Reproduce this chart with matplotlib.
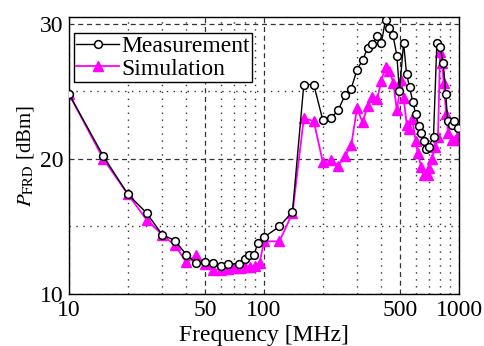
import matplotlib
matplotlib.use("Agg")
import matplotlib.pyplot as plt
from matplotlib.ticker import FixedLocator, NullFormatter, FixedFormatter

plt.rcParams['font.family'] = ['Liberation Serif', 'DejaVu Serif']
plt.rcParams['mathtext.fontset'] = 'stix'

# Measurement
freq_meas = [10, 15, 20, 25, 30, 35, 40, 45, 50, 55, 60, 65, 74, 80, 84, 89, 93, 100, 120, 140,
             160, 180, 200, 220, 240, 260, 280, 300, 320, 340, 360, 380, 400, 420, 440, 458,
             480, 495, 520, 538, 558, 580, 600, 622, 642, 660, 675, 700, 740, 770, 800, 830,
             855, 875, 920, 940, 990]
p_meas = [24.8, 20.2, 17.4, 16.0, 14.4, 13.95, 12.9, 12.3, 12.4, 12.3, 12.1, 12.2, 12.25, 12.6,
          12.9, 12.9, 13.8, 14.2, 15.0, 16.1, 25.5, 25.5, 22.9, 23.0, 23.6, 24.7, 25.2, 26.6,
          27.3, 28.2, 28.5, 29.1, 28.6, 30.3, 29.7, 29.2, 27.65, 25.0, 28.6, 26.3, 25.3, 24.2,
          23.3, 22.4, 21.9, 21.3, 20.7, 20.9, 21.65, 28.6, 28.3, 27.1, 24.8, 22.8, 22.5, 22.8, 22.3]

# Simulation
freq_sim = [10, 15, 20, 25, 30, 35, 40, 45, 50, 55, 60, 65, 70, 75, 80, 85, 90, 95, 100, 120,
            140, 160, 180, 200, 220, 240, 260, 280, 300, 320, 340, 360, 380, 400, 420, 440,
            460, 480, 505, 520, 540, 555, 575, 600, 615, 640, 665, 690, 705, 725, 755, 780,
            800, 820, 835, 860, 880, 920, 950, 990]
p_sim = [24.8, 20.0, 17.4, 15.5, 14.4, 13.6, 12.35, 12.85, 12.2, 11.8, 11.8, 11.85, 11.9, 11.95,
         12.0, 12.0, 12.1, 12.3, 13.9, 13.9, 16.0, 23.0, 22.8, 19.8, 19.9, 19.5, 20.2, 21.0,
         23.75, 22.7, 23.9, 24.6, 24.4, 25.8, 26.8, 26.5, 25.65, 23.6, 25.85, 24.5, 22.5, 22.2,
         22.96, 21.3, 20.4, 19.4, 18.8, 18.8, 19.3, 20.0, 20.9, 21.6, 27.9, 27.1, 25.6, 23.3,
         21.9, 21.4, 21.4, 21.8]

x_ticks = [10, 50, 100, 500, 1000]
x_minor = [20, 30, 40, 60, 70, 80, 90, 200, 300, 400, 600, 700, 800, 900]
y_ticks = [10, 20, 30]
y_minor = [15, 25]

fig = plt.figure(figsize=(4.84, 3.46), dpi=100)
ax = fig.add_axes([69/484, 1-294/346, 390/484, 277/346])

ax.plot(freq_meas, p_meas, color='black', lw=1.0, marker='o', ms=5.6,
        mfc='white', mec='black', mew=1.1, label='Measurement', zorder=3)
ax.plot(freq_sim, p_sim, color='#FF00FF', lw=1.3, marker='^', ms=6.5,
        mfc='#FF00FF', mec='#FF00FF', label='Simulation', zorder=2)

ax.set_xscale('log')
ax.set_xlim(10, 1000)
ax.set_ylim(10, 30.5)
ax.xaxis.set_major_locator(FixedLocator(x_ticks))
ax.xaxis.set_major_formatter(FixedFormatter([str(v) for v in x_ticks]))
ax.xaxis.set_minor_locator(FixedLocator(x_minor))
ax.xaxis.set_minor_formatter(NullFormatter())
ax.yaxis.set_major_locator(FixedLocator(y_ticks))
ax.yaxis.set_minor_locator(FixedLocator(y_minor))

ax.grid(True, which='major', color='#333333', linestyle=(0, (4, 3)), lw=0.9)
ax.grid(True, which='minor', color='#333333', linestyle=(0, (1, 4)), lw=1.0)
ax.tick_params(which='both', length=0, labelsize=17, pad=4)
for s in ax.spines.values():
    s.set_linewidth(1.0)

ax.set_xlabel('Frequency [MHz]', fontsize=17, labelpad=3)
ax.set_ylabel(r'$P_{\mathrm{FRD}}$ [dBm]', fontsize=15, labelpad=7)
ax.yaxis.set_label_coords(-0.085, 0.5)

leg = ax.legend(loc='upper left', bbox_to_anchor=(0.013, 0.942), borderaxespad=0,
                fontsize=17, frameon=True, fancybox=False,
                edgecolor='black', borderpad=0.1, labelspacing=0.05, handlelength=1.8,
                handletextpad=0.1, framealpha=1)
leg.get_frame().set_linewidth(1.0)

fig.savefig('out.png', dpi=100)
